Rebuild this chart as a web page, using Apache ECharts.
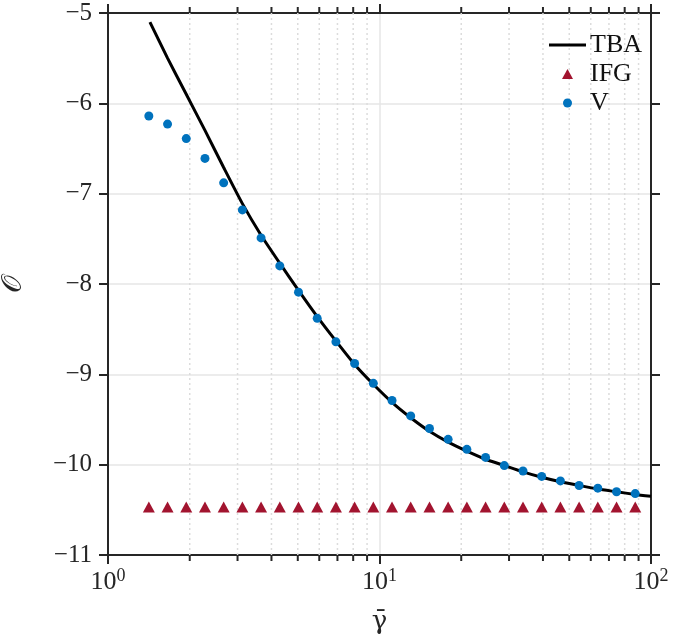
<!DOCTYPE html>
<html>
<head>
<meta charset="utf-8">
<script src="https://cdn.jsdelivr.net/npm/echarts@6/dist/echarts.min.js"></script>
<style>html,body{margin:0;padding:0;background:#fff}#c{width:700px;height:642px}</style>
</head>
<body>
<div id="c"></div>
<script>
// ---- data ----
const gammaVals = [1.414, 1.657, 1.942, 2.276, 2.667, 3.126, 3.663, 4.293, 5.031, 5.896, 6.910, 8.098, 9.490, 11.12, 13.03, 15.28, 17.90, 20.98, 24.59, 28.82, 33.77, 39.58, 46.38, 54.36, 63.70, 74.66, 87.49];
const vVals = [-6.14, -6.23, -6.39, -6.61, -6.88, -7.18, -7.49, -7.80, -8.09, -8.38, -8.64, -8.88, -9.10, -9.29, -9.46, -9.60, -9.72, -9.83, -9.92, -10.01, -10.07, -10.13, -10.18, -10.23, -10.26, -10.30, -10.32];
const ifgVals = [-10.47, -10.47, -10.47, -10.47, -10.47, -10.47, -10.47, -10.47, -10.47, -10.47, -10.47, -10.47, -10.47, -10.47, -10.47, -10.47, -10.47, -10.47, -10.47, -10.47, -10.47, -10.47, -10.47, -10.47, -10.47, -10.47, -10.47];
const tbaX = [1.427, 1.657, 1.942, 2.276, 2.667, 3.126, 3.663, 4.293, 5.031, 5.896, 6.910, 8.098, 9.490, 11.12, 13.03, 15.28, 17.90, 20.98, 24.59, 28.82, 33.77, 39.58, 46.38, 54.36, 63.70, 74.66, 87.49, 100];
const tbaVals = [-5.10, -5.50, -5.90, -6.30, -6.71, -7.11, -7.46, -7.77, -8.07, -8.36, -8.63, -8.89, -9.11, -9.31, -9.48, -9.63, -9.75, -9.85, -9.94, -10.01, -10.08, -10.14, -10.19, -10.23, -10.27, -10.30, -10.33, -10.35];
const minorXTicks = [2, 3, 4, 5, 6, 7, 8, 9, 20, 30, 40, 50, 60, 70, 80, 90];
const xTickExp = {1: '0', 10: '1', 100: '2'};
const seriesNames = ['TBA', 'IFG', 'V'];

// ---- styles ----
const AX = '#262626';
const FONT = '"Liberation Serif", "DejaVu Serif", serif';
const zip = (a, b) => a.map((v, i) => [v, b[i]]);

const chart = echarts.init(document.getElementById('c'), null, {renderer: 'canvas'});
const axisCommon = {
  axisLine: {show: true, onZero: false, lineStyle: {color: AX, width: 2}},
  axisTick: {show: true, inside: false, length: 9, lineStyle: {color: AX, width: 2}}
};
const legendText = {fontFamily: FONT, fontSize: 26, color: '#111', lineHeight: 26};
chart.setOption({
  animation: false,
  backgroundColor: '#fff',
  grid: {left: 108, right: 49, top: 13, bottom: 87, containLabel: false, outerBoundsMode: 'none'},
  legend: [{
    data: [{name: seriesNames[0], icon: 'rect'}],
    left: 544, top: 27, itemWidth: 37, itemHeight: 3,
    textStyle: {...legendText, padding: [0, 0, 0, -1]}, selectedMode: false
  }, {
    data: [{name: seriesNames[1], icon: 'triangle'}],
    left: 557, top: 56, itemWidth: 11, itemHeight: 10,
    textStyle: {...legendText, padding: [0, 0, 0, 12]}, selectedMode: false
  }, {
    data: [{name: seriesNames[2], icon: 'circle'}],
    left: 558, top: 85, itemWidth: 9, itemHeight: 9,
    textStyle: {...legendText, padding: [0, 0, 0, 13]}, selectedMode: false
  }],
  xAxis: [{
    type: 'log', logBase: 10, min: 1, max: 100, position: 'bottom',
    ...axisCommon,
    axisLabel: {
      margin: 12,
      formatter: v => '{b|10}{s|' + (xTickExp[Math.round(v)] || '') + '}',
      rich: {
        b: {fontFamily: FONT, fontSize: 26, color: AX},
        s: {fontFamily: FONT, fontSize: 18, color: AX, verticalAlign: 'bottom', padding: [0, 0, 12, 0]}
      }
    },
    splitLine: {show: true, lineStyle: {color: '#e6e6e6', width: 1.5}},
    name: 'γ\u0304', nameLocation: 'middle', nameGap: 54,
    nameTextStyle: {fontFamily: '"DejaVu Serif", serif', fontSize: 26, color: AX}
  }, {
    type: 'log', logBase: 10, min: 1, max: 100, position: 'top',
    ...axisCommon,
    axisLabel: {show: false},
    splitLine: {show: false}
  }],
  yAxis: [{
    type: 'value', min: -11, max: -5, interval: 1, position: 'left',
    ...axisCommon,
    axisLabel: {
      margin: 16, fontFamily: FONT, fontSize: 25, color: AX,
      formatter: v => (v < 0 ? '\u2212' : '') + Math.abs(v)
    },
    splitLine: {show: true, lineStyle: {color: '#e6e6e6', width: 1.5}},
    name: '𝒪', nameLocation: 'middle', nameGap: 80, nameRotate: 90,
    nameTextStyle: {fontFamily: FONT, fontSize: 28, color: AX}
  }, {
    type: 'value', min: -11, max: -5, interval: 1, position: 'right',
    ...axisCommon,
    axisLabel: {show: false},
    splitLine: {show: false}
  }],
  series: [{
    type: 'custom', name: 'minor', z: 1, silent: true, clip: false,
    data: minorXTicks.map(v => [v, -11]),
    encode: {x: 0, y: 1},
    renderItem: function (params, api) {
      const x = api.coord([api.value(0), -11])[0];
      const cs = params.coordSys;
      const top = cs.y, bot = cs.y + cs.height;
      return {type: 'group', children: [
        {type: 'line', shape: {x1: x, y1: top, x2: x, y2: bot}, style: {stroke: '#dcdcdc', lineWidth: 1.5, lineDash: [2, 3]}},
        {type: 'line', shape: {x1: x, y1: bot, x2: x, y2: bot + 6}, style: {stroke: AX, lineWidth: 2}},
        {type: 'line', shape: {x1: x, y1: top, x2: x, y2: top - 6}, style: {stroke: AX, lineWidth: 2}}
      ]};
    }
  }, {
    name: 'TBA', type: 'line', z: 3, smooth: 0.2, showSymbol: false, symbol: 'none',
    data: zip(tbaX, tbaVals),
    lineStyle: {color: '#000', width: 3}, itemStyle: {color: '#000'}
  }, {
    name: 'IFG', type: 'scatter', z: 4, symbol: 'triangle', symbolSize: [12, 11],
    data: zip(gammaVals, ifgVals),
    itemStyle: {color: '#A2142F', opacity: 1}
  }, {
    name: 'V', type: 'scatter', z: 5, symbol: 'circle', symbolSize: 9,
    data: zip(gammaVals, vVals),
    itemStyle: {color: '#0072BD', opacity: 1}
  }]
});
</script>
</body>
</html>
